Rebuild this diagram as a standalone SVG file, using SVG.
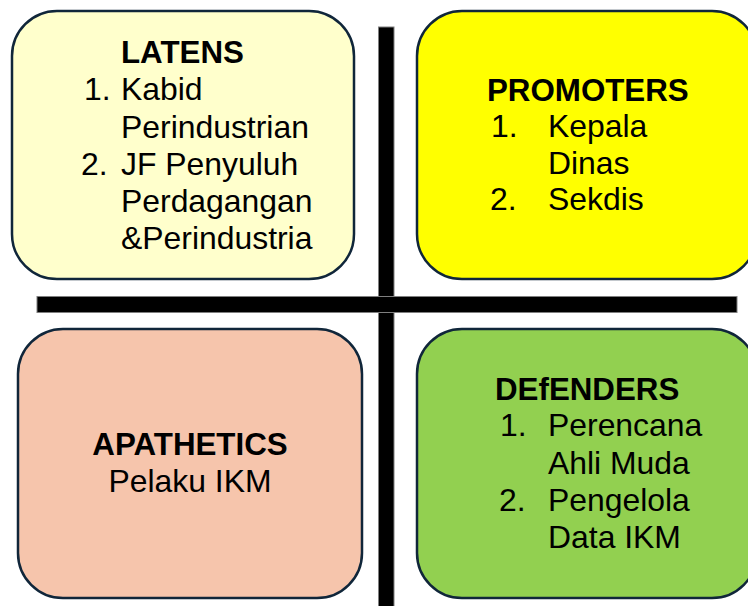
<svg xmlns="http://www.w3.org/2000/svg" width="748" height="606" viewBox="0 0 748 606">
<style>
.box{stroke:#10263A;stroke-width:2.5}
.bar{fill:#000;stroke:#7f7f7f;stroke-width:1}
text{font-family:"Liberation Sans",Arial,sans-serif;fill:#000}
.t{font-weight:bold;font-size:31.3px}
.b{font-size:31.9px}
</style>
<rect width="748" height="606" fill="#fff"/>
<g id="connectors">
<rect class="bar" x="378.5" y="27" width="15.5" height="585"/>
<rect class="bar" x="37" y="296.5" width="700" height="16"/>
</g>
<g id="latens">
<rect class="box" x="12" y="11" width="342" height="268" rx="45" ry="45" fill="#FFFFCC"/>
<text class="t" x="121" y="63">LATENS</text>
<text class="b"><tspan x="84" y="100">1.</tspan><tspan x="121" y="100">Kabid</tspan><tspan x="121" y="137.5">Perindustrian</tspan><tspan x="81" y="175">2.</tspan><tspan x="121" y="175">JF Penyuluh</tspan><tspan x="121" y="212">Perdagangan</tspan><tspan x="121" y="249">&amp;Perindustria</tspan></text>
</g>
<g id="promoters">
<rect class="box" x="417" y="11" width="340" height="268" rx="45" ry="45" fill="#FFFF00"/>
<text class="t" x="487" y="101">PROMOTERS</text>
<text class="b"><tspan x="491" y="137">1.</tspan><tspan x="548" y="137">Kepala</tspan><tspan x="548" y="174">Dinas</tspan><tspan x="490" y="210">2.</tspan><tspan x="548" y="210">Sekdis</tspan></text>
</g>
<g id="apathetics">
<rect class="box" x="18" y="329" width="344" height="269" rx="45" ry="45" fill="#F6C5AC"/>
<text class="t" x="190" y="455" text-anchor="middle">APATHETICS</text>
<text class="b" x="190" y="492" text-anchor="middle">Pelaku IKM</text>
</g>
<g id="defenders">
<rect class="box" x="417" y="329" width="340" height="269" rx="45" ry="45" fill="#92D050"/>
<text class="t" x="495" y="400">DEfENDERS</text>
<text class="b"><tspan x="500" y="436">1.</tspan><tspan x="548" y="436">Perencana</tspan><tspan x="548" y="474">Ahli Muda</tspan><tspan x="499" y="511">2.</tspan><tspan x="548" y="511">Pengelola</tspan><tspan x="548" y="548">Data IKM</tspan></text>
</g>
</svg>
